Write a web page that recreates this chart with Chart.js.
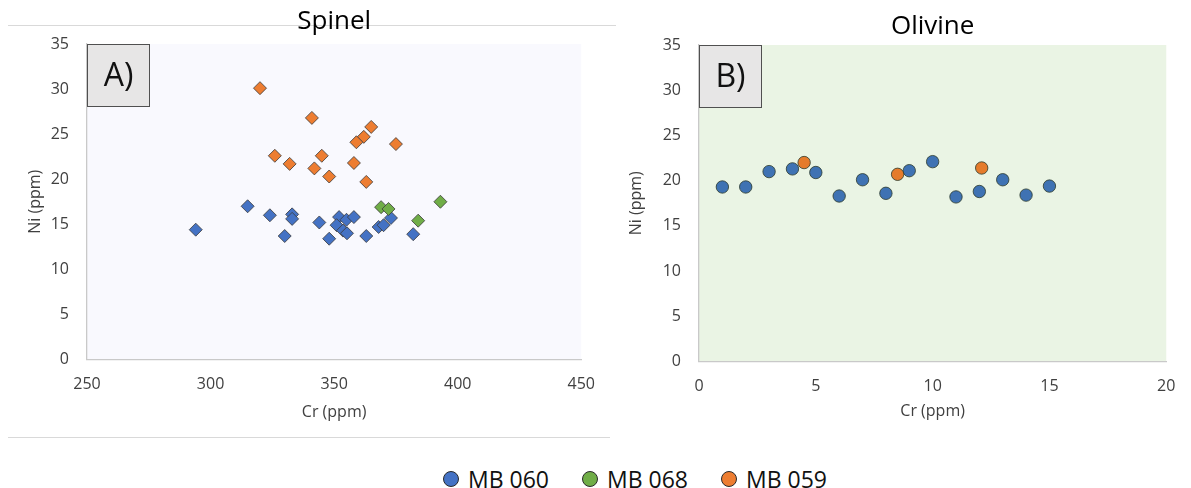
<!DOCTYPE html>
<html>
<head>
<meta charset="utf-8">
<script src="https://cdn.jsdelivr.net/npm/chart.js@4.4.1/dist/chart.umd.min.js"></script>
<style>
  html, body { margin: 0; padding: 0; background: #ffffff; }
  body { width: 1191px; height: 488px; position: relative; overflow: hidden; font-family: 'Open Sans', sans-serif; }
  .hl { position: absolute; height: 0; border-top: 1px solid #D9D9D9; z-index: 0; }
  canvas { position: absolute; top: 0; z-index: 1; }
  #c1 { left: 0; }
  #c2 { left: 612px; }
  #legend { position: absolute; left: 443px; top: 464px; display: flex; align-items: center; font-size: 23px; line-height: 30px; color: #111; z-index: 2; }
  #legend .item { display: flex; align-items: center; margin-right: 33px; }
  #legend .item:last-child { margin-right: 0; }
  #legend .dot { width: 14px; height: 14px; border-radius: 50%; border: 1px solid #2a2a2a; margin-right: 9px; box-sizing: content-box; }
</style>
</head>
<body>
<div class="hl" style="left:8px; top:25px; width:608px;"></div>
<div class="hl" style="left:8px; top:437px; width:602px;"></div>
<canvas id="c1" width="610" height="440"></canvas>
<canvas id="c2" width="579" height="440"></canvas>
<div id="legend"></div>
<script>
// ---------- data ----------
const seriesNames = ['MB 060', 'MB 068', 'MB 059'];
const seriesColors = ['#4472C4', '#70AD47', '#ED7D31'];

// Spinel (panel A)
const spinelCr060 = [294, 315, 324, 333, 333, 330, 344, 348, 352, 351, 355, 353.6, 355.2, 358, 363, 368, 370, 373, 382];
const spinelNi060 = [14.4, 17.0, 16.0, 16.1, 15.6, 13.7, 15.2, 13.4, 15.8, 14.9, 15.5, 14.3, 14.0, 15.8, 13.7, 14.7, 14.9, 15.7, 13.9];
const spinelCr068 = [369, 372, 393, 384];
const spinelNi068 = [16.9, 16.7, 17.5, 15.4];
const spinelCr059 = [320, 341, 365, 362, 359, 375, 326, 345, 332, 358, 342, 348, 363];
const spinelNi059 = [30.1, 26.8, 25.8, 24.7, 24.1, 23.9, 22.6, 22.6, 21.7, 21.8, 21.2, 20.3, 19.7];

// Olivine (panel B)
const olivineCr060 = [1, 2, 3, 4, 5, 6, 7, 8, 9, 10, 11, 12, 13, 14, 15];
const olivineNi060 = [19.3, 19.3, 21.0, 21.3, 20.9, 18.3, 20.1, 18.6, 21.1, 22.1, 18.2, 18.8, 20.1, 18.4, 19.4];
const olivineCr059 = [4.5, 8.5, 12.1];
const olivineNi059 = [22.0, 20.7, 21.4];

// axis ranges / ticks
const spinelX = { min: 250, max: 450, step: 50 };
const olivineX = { min: 0, max: 20, step: 5 };
const niY = { min: 0, max: 35, step: 5 };

const titles = { spinel: 'Spinel', olivine: 'Olivine', panelA: 'A)', panelB: 'B)', x: 'Cr (ppm)', y: 'Ni (ppm)' };

// ---------- helpers ----------
const zip = (xs, ys) => xs.map((x, i) => ({ x: x, y: ys[i] }));
const FONT = "'Open Sans', sans-serif";
const TEXT = '#404040';
Chart.defaults.font.family = FONT;

function bgPlugin(color) {
  return {
    id: 'plotBg',
    beforeDraw(chart) {
      const { ctx, chartArea: a } = chart;
      ctx.save();
      ctx.fillStyle = color;
      ctx.fillRect(a.left, a.top, a.right - a.left, a.bottom - a.top);
      ctx.restore();
    }
  };
}
function panelLabelPlugin(text) {
  return {
    id: 'panelLabel',
    afterDatasetsDraw(chart) {
      const { ctx, chartArea: a } = chart;
      const w = 63, h = 63;
      ctx.save();
      ctx.fillStyle = '#E7E6E6';
      ctx.fillRect(a.left, a.top, w, h);
      ctx.strokeStyle = '#505050';
      ctx.lineWidth = 1;
      ctx.strokeRect(a.left + 0.5, a.top + 0.5, w - 1, h - 1);
      ctx.fillStyle = '#111';
      ctx.font = "32px " + FONT;
      ctx.textAlign = 'center';
      ctx.textBaseline = 'middle';
      ctx.fillText(text, a.left + w / 2, a.top + h / 2 + 1);
      ctx.restore();
    }
  };
}

function makeOptions(o) {
  return {
    responsive: false,
    animation: false,
    events: [],
    layout: { padding: { left: 0, right: o.padRight, top: 0, bottom: 0 } },
    plugins: {
      legend: { display: false },
      tooltip: { enabled: false },
      title: {
        display: true, text: o.title, fullSize: false,
        font: { family: FONT, size: 26, weight: 'normal', lineHeight: 1.2 },
        color: '#000', padding: o.titlePad
      }
    },
    scales: {
      x: {
        type: 'linear', min: o.xr.min, max: o.xr.max,
        ticks: { stepSize: o.xr.step, padding: o.xTickPad, color: TEXT, font: { size: 16 } },
        grid: { display: false, drawTicks: false },
        border: { display: true, color: '#C9C9C9', width: 1.3 },
        title: { display: true, text: titles.x, color: TEXT, font: { size: 16, lineHeight: 1.2 }, padding: { top: 0, bottom: o.xTitlePad } },
        afterFit(s) { s.height = o.xHeight; }
      },
      y: {
        type: 'linear', min: niY.min, max: niY.max,
        ticks: { stepSize: niY.step, padding: 18, color: TEXT, font: { size: 16 } },
        grid: { display: false, drawTicks: false },
        border: { display: true, color: '#C9C9C9', width: 1.3 },
        title: { display: true, text: titles.y, color: TEXT, font: { size: 16, lineHeight: 1.2 }, padding: { top: o.yTitlePad, bottom: 0 } },
        afterFit(s) { s.width = 87; }
      }
    }
  };
}

const diamond = (label, color, data, order) => ({
  label, data, order,
  pointStyle: 'rectRot', pointRadius: 6.5, pointHoverRadius: 6.5,
  backgroundColor: color, borderColor: '#3a3a3a', borderWidth: 0.8, showLine: false
});
const circle = (label, color, data, order) => ({
  label, data, order,
  pointStyle: 'circle', pointRadius: 6.2, pointHoverRadius: 6.2,
  backgroundColor: color, borderColor: '#2c3a2c', borderWidth: 0.8, showLine: false
});

new Chart(document.getElementById('c1'), {
  type: 'scatter',
  data: {
    datasets: [
      diamond(seriesNames[0], seriesColors[0], zip(spinelCr060, spinelNi060), 3),
      diamond(seriesNames[1], seriesColors[1], zip(spinelCr068, spinelNi068), 2),
      diamond(seriesNames[2], seriesColors[2], zip(spinelCr059, spinelNi059), 1)
    ]
  },
  options: makeOptions({
    title: titles.spinel, padRight: 28, titlePad: { top: 6, bottom: 6.8 },
    xr: spinelX, xTickPad: 15, xTitlePad: 18.4, xHeight: 80.5, yTitlePad: 25.6
  }),
  plugins: [bgPlugin('#F9F9FE'), panelLabelPlugin(titles.panelA)]
});

new Chart(document.getElementById('c2'), {
  type: 'scatter',
  data: {
    datasets: [
      circle(seriesNames[0], '#3F72B3', zip(olivineCr060, olivineNi060), 3),
      circle(seriesNames[2], '#E57B2B', zip(olivineCr059, olivineNi059), 1)
    ]
  },
  options: makeOptions({
    title: titles.olivine, padRight: 18.3, titlePad: { top: 11, bottom: 2.8 },
    xr: olivineX, xTickPad: 15.6, xTitlePad: 18.9, xHeight: 78.5, yTitlePad: 14.8
  }),
  plugins: [bgPlugin('#EAF4E4'), panelLabelPlugin(titles.panelB)]
});

// shared legend
const lg = document.getElementById('legend');
seriesNames.forEach((n, i) => {
  const it = document.createElement('div');
  it.className = 'item';
  const d = document.createElement('span');
  d.className = 'dot';
  d.style.background = seriesColors[i];
  const t = document.createElement('span');
  t.textContent = n;
  it.appendChild(d); it.appendChild(t);
  lg.appendChild(it);
});
</script>
</body>
</html>
